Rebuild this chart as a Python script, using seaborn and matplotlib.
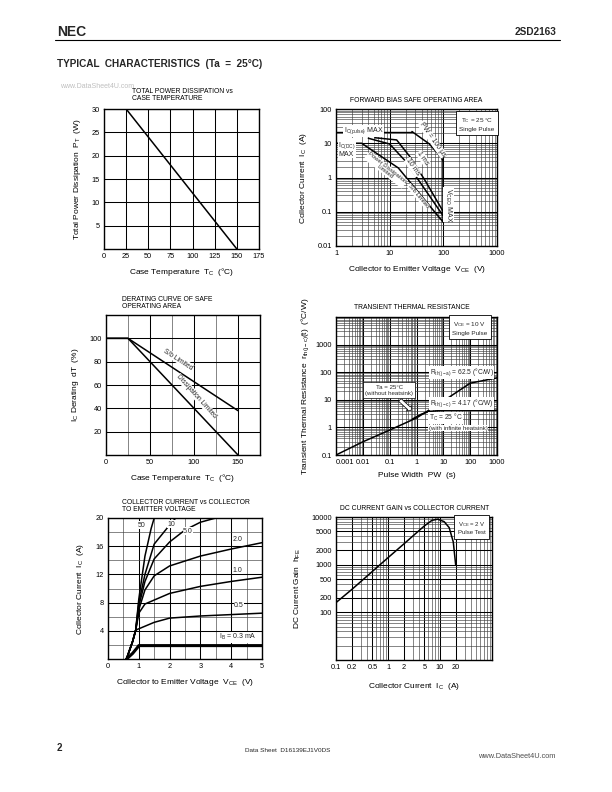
import matplotlib
matplotlib.use('Agg')
import matplotlib.pyplot as plt
import matplotlib.ticker as mticker
import seaborn as sns

# ---- data ----
# total power dissipation vs case temperature
pt_temp = [0, 25, 150]
pt_power = [30, 30, 0]

# forward bias safe operating area
soa_pulse_max_v = [1, 26]
soa_pulse_max_i = [22, 22]
soa_100us_v = [26, 55, 90, 100]
soa_100us_i = [22, 9.5, 4.0, 3.0]
soa_1ms_v = [5.3, 13.5, 24, 45, 100]
soa_1ms_i = [14.5, 12.5, 4.0, 0.85, 0.1]
soa_10ms_v = [4, 10, 19, 40, 100]
soa_10ms_i = [14, 9.5, 3.2, 0.6, 0.075]
soa_dc_v = [1, 3, 14.5, 86, 100]
soa_dc_i = [10, 10, 1.9, 0.065, 0.05]
vceo_v = [100, 100]
vceo_i = [3.0, 0.05]

# derating curve
derate_temp = [0, 25, 150]
derate_sb = [100, 100, 38]
derate_diss = [100, 100, 0]

# transient thermal resistance
rth_t = [0.001, 0.01, 0.1, 1, 10, 100, 1000]
rth_no_sink = [0.1, 0.3, 0.8, 2.2, 9, 40, 62.5]
rth_sink_t = [0.7, 1.5, 3, 10, 100, 1000]
rth_sink = [2.0, 3.0, 3.8, 4.17, 4.17, 4.17]

# collector current vs collector to emitter voltage
ib_labels = ['50', '10', '5.0', '2.0', '1.0', '0.5']
ib_v = {
    '50':  [0.6, 0.8, 0.9, 1.0, 1.2, 1.4, 1.5],
    '10':  [0.6, 0.8, 0.9, 1.0, 1.2, 1.5, 2.0, 2.2],
    '5.0': [0.6, 0.8, 0.9, 1.0, 1.2, 1.5, 2.0, 2.5, 3.0, 3.5],
    '2.0': [0.6, 0.8, 0.9, 1.0, 1.2, 1.5, 2.0, 3.0, 4.0, 5.0],
    '1.0': [0.6, 0.8, 0.9, 1.0, 1.2, 2.0, 3.0, 4.0, 5.0],
    '0.5': [0.6, 0.8, 0.9, 1.5, 2.0, 3.0, 4.0, 5.0],
}
ib_i = {
    '50':  [0, 2.5, 4.1, 8.5, 14.6, 18.5, 20],
    '10':  [0, 2.5, 4.1, 8.0, 12.0, 16.3, 19.0, 20],
    '5.0': [0, 2.5, 4.1, 7.5, 11.0, 14.2, 16.6, 18.3, 19.4, 20],
    '2.0': [0, 2.5, 4.1, 7.0, 9.8, 11.8, 13.2, 14.6, 15.6, 16.5],
    '1.0': [0, 2.5, 4.1, 6.5, 7.8, 9.3, 10.3, 11.0, 11.6],
    '0.5': [0, 2.5, 4.1, 5.2, 5.8, 6.1, 6.3, 6.5],
}
ib03_v = [0.6, 0.8, 0.95, 1.0, 5.0]
ib03_i = [0, 0.8, 1.6, 1.9, 1.9]

# dc current gain vs collector current
hfe_ic = [0.1, 0.2, 0.5, 1, 2, 5, 7, 9, 12, 15, 18, 20]
hfe = [160, 300, 720, 1400, 2700, 6500, 8500, 9000, 8000, 6000, 3000, 1000]

sns.set_theme(style='white')
plt.rcParams['font.family'] = ['Liberation Sans', 'DejaVu Sans']
plt.rcParams['mathtext.fontset'] = 'custom'
plt.rcParams['mathtext.rm'] = 'Liberation Sans'

fig = plt.figure(figsize=(6.12, 7.92), dpi=100)
W, H = 612, 792


def px_axes(l, t, r, b):
    return fig.add_axes([l / W, 1 - b / H, (r - l) / W, (b - t) / H])


def style(ax):
    for s in ax.spines.values():
        s.set_color('black')
        s.set_linewidth(1.0)
    ax.tick_params(which='both', length=0, labelsize=5.3, colors='black', pad=3)
    ax.grid(True, which='major', color='black', lw=0.75)
    ax.grid(True, which='minor', color='0.25', lw=0.45)
    ax.set_axisbelow(True)


def line(ax, x, y, lw=1.1):
    sns.lineplot(x=x, y=y, ax=ax, color='black', lw=lw, sort=False, estimator=None)


def sub(t):
    return r'$\mathregular{_{' + t + '}}$'


lab = dict(fontsize=6.0, color='black')
ttl = dict(fontsize=4.9, color='black')
wb = dict(facecolor='white', edgecolor='none', pad=0.3)

# ---- header / footer ----
fig.add_artist(plt.Line2D([55 / W, 560 / W], [1 - 40 / H, 1 - 40 / H], color='black', lw=0.8))
fig.text(57 / W, 1 - 32 / H, 'NEC', fontsize=10, fontweight='heavy', va='center')
fig.text(556 / W, 1 - 32 / H, '2SD2163', fontsize=7.2, fontweight='bold', va='center', ha='right')
fig.text(57 / W, 1 - 64 / H, 'TYPICAL  CHARACTERISTICS  (Ta  =  25°C)', fontsize=7.2,
         fontweight='bold', va='center')
fig.text(60 / W, 1 - 86 / H, 'www.DataSheet4U.com', fontsize=5, color='0.75', va='center')
fig.text(57 / W, 1 - 748 / H, '2', fontsize=7, fontweight='bold', va='center')
fig.text(245 / W, 1 - 750 / H, 'Data Sheet  D16139EJ1V0DS', fontsize=4.6, va='center')
fig.text(555 / W, 1 - 757 / H, 'www.DataSheet4U.com', fontsize=5.3, color='0.3', va='center', ha='right')

# ---- 1: total power dissipation ----
ax1 = px_axes(104, 109, 259, 249)
style(ax1)
line(ax1, pt_temp, pt_power)
ax1.set_xlim(0, 175)
ax1.set_ylim(0, 30)
ax1.set_xticks([0, 25, 50, 75, 100, 125, 150, 175])
ax1.set_yticks([5, 10, 15, 20, 25, 30])
ax1.set_xlabel('Case Temperature  T' + sub('C') + '  (°C)', labelpad=4, **lab)
ax1.set_ylabel('Total Power Dissipation  P' + sub('T') + '  (W)', labelpad=6, **lab)
fig.text(132 / W, 1 - 88 / H, 'TOTAL POWER DISSIPATION vs\nCASE TEMPERATURE', va='top',
         linespacing=1.05, **ttl)

# ---- 2: forward bias safe operating area ----
ax2 = px_axes(336, 109, 497, 246)
ax2.set_xscale('log')
ax2.set_yscale('log')
style(ax2)
line(ax2, soa_pulse_max_v, soa_pulse_max_i, lw=1.0)
line(ax2, soa_100us_v, soa_100us_i)
line(ax2, soa_1ms_v, soa_1ms_i)
line(ax2, soa_10ms_v, soa_10ms_i)
line(ax2, soa_dc_v, soa_dc_i)
line(ax2, vceo_v, vceo_i)
ax2.set_xlim(1, 1000)
ax2.set_ylim(0.01, 100)
ax2.xaxis.set_minor_locator(mticker.LogLocator(subs=range(2, 10), numticks=20))
ax2.yaxis.set_minor_locator(mticker.LogLocator(subs=range(2, 10), numticks=20))
ax2.set_xticks([1, 10, 100, 1000], ['1', '10', '100', '1000'])
ax2.set_yticks([0.01, 0.1, 1, 10, 100], ['0.01', '0.1', '1', '10', '100'])
ax2.xaxis.set_minor_formatter(mticker.NullFormatter())
ax2.yaxis.set_minor_formatter(mticker.NullFormatter())
ax2.set_xlabel('Collector to Emitter Voltage  V' + sub('CE') + '  (V)', labelpad=5, **lab)
ax2.set_ylabel('Collector Current  I' + sub('C') + '  (A)', labelpad=6, **lab)
ax2.text(1.4, 23, 'I' + sub('C(pulse)') + ' MAX', fontsize=5, va='center', ha='left', bbox=wb)
ax2.text(1.1, 6.8, 'I' + sub('C(DC)') + '\nMAX', fontsize=5, va='center', ha='left',
         linespacing=0.9, bbox=wb)
ax2.text(62, 13, 'PW = 100 µs', fontsize=5, rotation=-55, ha='center', va='center', bbox=wb)
ax2.text(42, 3.6, '1 ms', fontsize=5, rotation=-55, ha='center', va='center', bbox=wb)
ax2.text(27, 2.0, '10 ms', fontsize=5, rotation=-55, ha='center', va='center', bbox=wb)
ax2.text(8.5, 1.7, 'Power Dissipation\nLimited', fontsize=4.2, rotation=-38, ha='center',
         va='center', linespacing=0.9, bbox=wb)
ax2.text(34, 0.28, 'S/b Limited', fontsize=4.2, rotation=-50, ha='center', va='center', bbox=wb)
ax2.text(125, 0.16, 'V' + sub('CEO') + ' MAX', fontsize=5, rotation=-90, ha='center',
         va='center', bbox=wb)
ax2.text(0.875, 0.89, 'T' + sub('C') + ' = 25 °C\nSingle Pulse', transform=ax2.transAxes,
         fontsize=4.6, ha='center', va='center', linespacing=1.3,
         bbox=dict(facecolor='white', edgecolor='black', lw=0.6, pad=2.5))
fig.text(416 / W, 1 - 101 / H, 'FORWARD BIAS SAFE OPERATING AREA', ha='center', va='center', **ttl)

# ---- 3: derating curve ----
ax3 = px_axes(106, 315, 260, 455)
style(ax3)
line(ax3, derate_temp, derate_sb)
line(ax3, derate_temp, derate_diss)
ax3.set_xlim(0, 175)
ax3.set_ylim(0, 120)
ax3.set_xticks([0, 50, 100, 150])
ax3.xaxis.set_minor_locator(mticker.FixedLocator([25, 75, 125]))
ax3.set_yticks([20, 40, 60, 80, 100])
ax3.set_xlabel('Case Temperature  T' + sub('C') + '  (°C)', labelpad=4, **lab)
ax3.set_ylabel('I' + sub('C') + ' Derating  dT  (%)', labelpad=6, **lab)
ax3.text(82, 82, 'S/b Limited', fontsize=4.8, rotation=-33, ha='center', va='center', bbox=wb)
ax3.text(103, 50, 'Dissipation Limited', fontsize=4.8, rotation=-48, ha='center', va='center',
         bbox=wb)
fig.text(122 / W, 1 - 296 / H, 'DERATING CURVE OF SAFE\nOPERATING AREA', va='top',
         linespacing=1.05, **ttl)

# ---- 4: transient thermal resistance ----
ax4 = px_axes(336, 317, 497, 455)
ax4.set_xscale('log')
ax4.set_yscale('log')
style(ax4)
line(ax4, rth_t, rth_no_sink)
line(ax4, rth_sink_t, rth_sink)
ax4.set_xlim(0.001, 1000)
ax4.set_ylim(0.1, 10000)
ax4.xaxis.set_minor_locator(mticker.LogLocator(subs=range(2, 10), numticks=20))
ax4.yaxis.set_minor_locator(mticker.LogLocator(subs=range(2, 10), numticks=20))
ax4.set_xticks([0.001, 0.01, 0.1, 1, 10, 100, 1000],
               ['0.001', '0.01', '0.1', '1', '10', '100', '1000'])
ax4.set_yticks([0.1, 1, 10, 100, 1000], ['0.1', '1', '10', '100', '1000'])
ax4.xaxis.set_minor_formatter(mticker.NullFormatter())
ax4.yaxis.set_minor_formatter(mticker.NullFormatter())
ax4.get_xticklabels()[0].set_horizontalalignment('left')
ax4.set_xlabel('Pulse Width  PW  (s)', labelpad=4, **lab)
ax4.set_ylabel('Transient Thermal Resistance  r' + sub('th(j-c)') + '(t)  (°C/W)', labelpad=3, **lab)
ax4.text(0.83, 0.92, 'V' + sub('CE') + ' = 10 V\nSingle Pulse', transform=ax4.transAxes,
         fontsize=4.6, ha='center', va='center', linespacing=1.3,
         bbox=dict(facecolor='white', edgecolor='black', lw=0.6, pad=2.5))
ax4.text(0.78, 0.60, 'R' + sub('th(j-a)') + ' = 62.5 (°C/W)', transform=ax4.transAxes,
         fontsize=4.8, ha='center', va='center', bbox=wb)
ax4.text(0.78, 0.375, 'R' + sub('th(j-c)') + ' = 4.17 (°C/W)', transform=ax4.transAxes,
         fontsize=4.8, ha='center', va='center', bbox=wb)
ax4.text(0.68, 0.27, 'T' + sub('C') + ' = 25 °C', transform=ax4.transAxes,
         fontsize=4.8, ha='center', va='center', bbox=wb)
ax4.text(0.76, 0.195, '(with infinite heatsink)', transform=ax4.transAxes,
         fontsize=4.4, ha='center', va='center', bbox=wb)
ax4.annotate('Ta = 25°C\n(without heatsink)', xy=(0.48, 0.31), xycoords='axes fraction',
             xytext=(0.33, 0.47), textcoords='axes fraction', fontsize=4.4, ha='center',
             va='center', linespacing=1.3,
             bbox=dict(facecolor='white', edgecolor='black', lw=0.5, pad=1.5),
             arrowprops=dict(arrowstyle='simple,head_width=1.2,tail_width=0.6',
                             fc='white', ec='black', lw=0.5))
fig.text(412 / W, 1 - 308 / H, 'TRANSIENT THERMAL RESISTANCE', ha='center', va='center', **ttl)

# ---- 5: collector current vs collector to emitter voltage ----
ax5 = px_axes(108, 518, 262, 659)
style(ax5)
for k in ib_labels:
    line(ax5, ib_v[k], ib_i[k])
line(ax5, ib03_v, ib03_i, lw=2.2)
ax5.set_xlim(0, 5)
ax5.set_ylim(0, 20)
ax5.set_xticks([0, 1, 2, 3, 4, 5])
ax5.xaxis.set_minor_locator(mticker.FixedLocator([0.5, 1.5, 2.5, 3.5, 4.5]))
ax5.set_yticks([4, 8, 12, 16, 20])
ax5.yaxis.set_minor_locator(mticker.FixedLocator([2, 6, 10, 14, 18]))
ax5.set_xlabel('Collector to Emitter Voltage  V' + sub('CE') + '  (V)', labelpad=5, **lab)
ax5.set_ylabel('Collector Current  I' + sub('C') + '  (A)', labelpad=7, **lab)
ib_pos = {'50': (1.09, 19.0), '10': (2.06, 19.1), '5.0': (2.6, 18.1),
          '2.0': (4.2, 16.9), '1.0': (4.2, 12.6), '0.5': (4.25, 7.6)}
for k in ib_labels:
    ax5.text(*ib_pos[k], k, fontsize=5, ha='center', va='center', bbox=wb)
ax5.text(4.2, 3.1, 'I' + sub('B') + ' = 0.3 mA', fontsize=5, ha='center', va='center', bbox=wb)
fig.text(122 / W, 1 - 499 / H, 'COLLECTOR CURRENT vs COLLECTOR\nTO EMITTER VOLTAGE', va='top',
         linespacing=1.05, **ttl)

# ---- 6: dc current gain ----
ax6 = px_axes(336, 517, 492, 660)
ax6.set_xscale('log')
ax6.set_yscale('log')
style(ax6)
line(ax6, hfe_ic, hfe)
ax6.set_xlim(0.1, 100)
ax6.set_ylim(10, 10000)
ax6.xaxis.set_minor_locator(mticker.LogLocator(subs=range(2, 10), numticks=20))
ax6.yaxis.set_minor_locator(mticker.LogLocator(subs=range(2, 10), numticks=20))
ax6.xaxis.set_minor_formatter(mticker.NullFormatter())
ax6.yaxis.set_minor_formatter(mticker.NullFormatter())
ax6.set_xticks([0.1, 0.2, 0.5, 1, 2, 5, 10, 20], ['0.1', '0.2', '0.5', '1', '2', '5', '10', '20'])
ax6.set_yticks([100, 200, 500, 1000, 2000, 5000, 10000],
               ['100', '200', '500', '1000', '2000', '5000', '10000'])
ax6.set_xlabel('Collector Current  I' + sub('C') + '  (A)', labelpad=7, **lab)
ax6.set_ylabel('DC Current Gain  h' + sub('FE'), labelpad=6, **lab)
ax6.text(0.87, 0.925, 'V' + sub('CE') + ' = 2 V\nPulse Test', transform=ax6.transAxes,
         fontsize=4.3, ha='center', va='center', linespacing=1.3,
         bbox=dict(facecolor='white', edgecolor='black', lw=0.6, pad=2.5))
fig.text(415 / W, 1 - 509 / H, 'DC CURRENT GAIN vs COLLECTOR CURRENT', ha='center',
         va='center', **ttl)

fig.savefig('out.png', dpi=100, facecolor='white')
